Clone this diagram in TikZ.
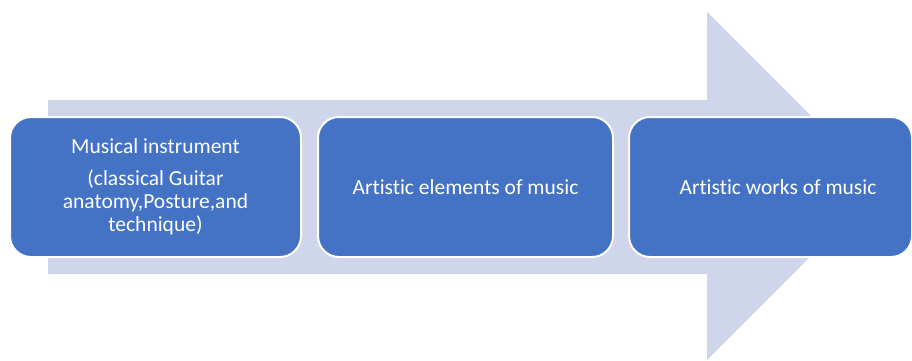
\documentclass[tikz,border=0pt]{standalone}
\usepackage{fontspec}
\setmainfont{Carlito}[Ligatures=NoCommon]
\definecolor{shaftgray}{HTML}{CFD5EA}
\definecolor{boxblue}{HTML}{4472C4}
\tikzset{
  phasebox/.style={shape=rectangle, rounded corners=21pt, draw=white, line width=2pt, fill=boxblue,
    text=white, align=center, minimum height=140pt, inner sep=0pt,
    font=\fontsize{21.5}{23}\selectfont},
}
\begin{document}
\begin{tikzpicture}[x=1pt,y=-1pt]
\useasboundingbox (0,0) rectangle (912,361);
\clip (0,0) rectangle (912,361);

\fill[shaftgray] (48,100) -- (707,100) -- (707,12) -- (881,186) -- (707,360) -- (707,274) -- (48,274) -- cycle;

\node[phasebox, minimum width=291pt] (p1) at (155.5,187) {Musical instrument\\[9pt](classical Guitar\\anatomy,Posture,and\\technique)};
\node[phasebox, minimum width=295pt] (p2) at (465.5,187) {Artistic elements of music};
\node[phasebox, minimum width=283pt] (p3) at (770.5,187) {\hspace*{15pt}Artistic works of music};
\end{tikzpicture}
\end{document}
